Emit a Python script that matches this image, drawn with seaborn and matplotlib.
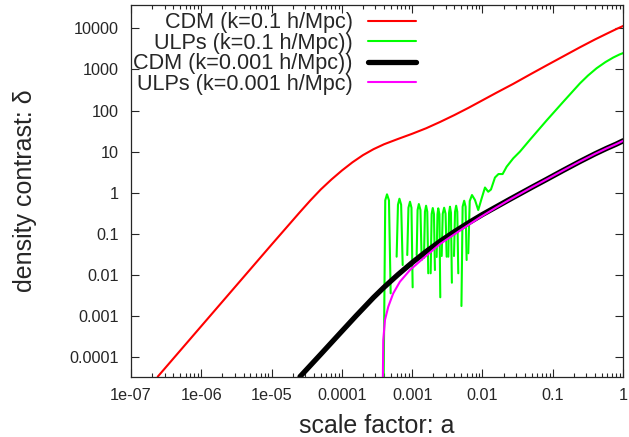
import numpy as np
import pandas as pd
import matplotlib
matplotlib.use("Agg")
import matplotlib.pyplot as plt
from matplotlib.lines import Line2D
from matplotlib.ticker import LogLocator, NullLocator
import seaborn as sns

# valores, em log10 (a = fator de escala, d = contraste de densidade)
red_loga = [-6.62, -6.0, -5.5, -5.0, -4.6, -4.45, -4.3, -4.15, -4.0, -3.85, -3.7, -3.55, -3.4,
            -3.2, -3.0, -2.8, -2.6, -2.4, -2.2, -2.0, -1.8, -1.562, -1.3, -1.087, -0.85,
            -0.613, -0.4, -0.233, -0.1, 0.003]
red_logd = [-4.477, -3.246, -2.254, -1.262, -0.477, -0.19, 0.08, 0.32, 0.54, 0.74, 0.915, 1.06,
            1.18, 1.31, 1.435, 1.57, 1.725, 1.89, 2.065, 2.25, 2.435, 2.65, 2.9, 3.10, 3.32,
            3.54, 3.73, 3.87, 3.98, 4.06]

black_loga = [-4.596, -4.3, -4.027, -3.8, -3.7, -3.55, -3.4, -3.2, -3.0, -2.8, -2.6, -2.4,
              -2.2, -2.0, -1.8, -1.6, -1.3, -1.087, -0.85, -0.613, -0.4, -0.233, -0.1, 0.003]
black_logd = [-4.477, -3.93, -3.421, -3.0, -2.82, -2.55, -2.30, -1.99, -1.70, -1.43, -1.18,
              -0.95, -0.735, -0.53, -0.34, -0.15, 0.13, 0.325, 0.545, 0.76, 0.945, 1.08, 1.18, 1.265]

mag_loga = [-3.420, -3.411, -3.387, -3.340, -3.269, -3.174, -3.031, -2.842, -2.605, -2.32,
            -2.036, -1.8, -1.609, -1.3, -1.087, -0.85, -0.613, -0.4, -0.233, -0.1, 0.003]
mag_logd = [-5.0, -3.584, -3.097, -2.774, -2.448, -2.165, -1.881, -1.596, -1.25, -0.92,
            -0.60, -0.355, -0.165, 0.13, 0.325, 0.545, 0.76, 0.945, 1.08, 1.18, 1.265]

# ULPs k=0.1: cada arco é um segmento (valores negativos somem no eixo log)
green_loga = [-3.408, -3.383, -3.358, -3.330, -3.306,
              -3.221, -3.202, -3.181, -3.157, -3.135,
              -3.070, -3.053, -3.031, -3.010, -2.993,
              -2.936, -2.923, -2.905, -2.882, -2.865,
              -2.832, -2.818, -2.802, -2.785, -2.771,
              -2.737, -2.723, -2.707, -2.690, -2.676,
              -2.652, -2.640, -2.629, -2.612, -2.600,
              -2.580, -2.565, -2.545, -2.525, -2.509,
              -2.486, -2.475, -2.462, -2.448, -2.435,
              -2.405, -2.390, -2.374, -2.358, -2.344,
              -2.299, -2.282, -2.260, -2.240, -2.225,
              -2.202, -2.181, -2.149, -2.106, -2.060, -2.011, -1.964, -1.918, -1.879, -1.822,
              -1.772, -1.713, -1.656, -1.562, -1.467, -1.324, -1.087, -0.850, -0.613, -0.5,
              -0.376, -0.25, -0.14, -0.05, 0.003]
green_logd = [-5.0, -0.185, -0.039, -0.185, -2.448,
              -1.557, -0.292, -0.146, -0.292, -1.759,
              -1.516, -0.365, -0.219, -0.365, -2.302,
              -1.516, -0.421, -0.275, -0.421, -1.637,
              -1.589, -0.462, -0.316, -0.462, -1.961,
              -1.961, -0.518, -0.372, -0.518, -1.881,
              -1.564, -0.526, -0.380, -0.526, -2.545,
              -1.540, -0.511, -0.365, -0.511, -1.557,
              -1.557, -0.487, -0.341, -0.487, -2.190,
              -1.540, -0.462, -0.316, -0.462, -1.961,
              -2.757, -0.341, -0.195, -0.341, -1.637,
              -1.474, -0.202, -0.056, -0.178, -0.421, -0.136, 0.127, 0.024, 0.078, 0.370,
              0.455, 0.455, 0.633, 0.837, 1.0, 1.29, 1.76, 2.214, 2.662, 2.85,
              3.03, 3.18, 3.29, 3.365, 3.40]
green_seg = [0]*5 + [1]*5 + [2]*5 + [3]*5 + [4]*5 + [5]*5 + [6]*5 + [7]*5 + [8]*5 + [9]*5 + [10]*5 + [11]*25

labels = ["CDM (k=0.1 h/Mpc)", "ULPs (k=0.1 h/Mpc))", "CDM (k=0.001 h/Mpc))", "ULPs (k=0.001 h/Mpc)"]
cores = ["#ff0000", "#00ff00", "#000000", "#ff00ff"]
larguras = [1.5, 1.5, 3.8, 1.5]

xticks = [1e-7, 1e-6, 1e-5, 1e-4, 1e-3, 1e-2, 1e-1, 1]
xticklabels = ["1e-07", "1e-06", "1e-05", "0.0001", "0.001", "0.01", "0.1", "1"]
yticks = [1e-4, 1e-3, 1e-2, 1e-1, 1, 10, 100, 1000, 10000]
yticklabels = ["0.0001", "0.001", "0.01", "0.1", "1", "10", "100", "1000", "10000"]

sns.set_style("ticks")
plt.rcParams['font.family'] = ['Liberation Sans', 'DejaVu Sans']

def tabela(la, ld, seg=None):
    df = pd.DataFrame({"a": 10**np.array(la), "d": 10**np.array(ld)})
    df["seg"] = seg if seg is not None else 0
    return df

fig, ax = plt.subplots(figsize=(6.29, 4.37), dpi=100)
fig.subplots_adjust(left=0.2083, right=0.9905, bottom=0.138, top=0.989)

series = [tabela(red_loga, red_logd), tabela(green_loga, green_logd, green_seg),
          tabela(black_loga, black_logd), tabela(mag_loga, mag_logd)]
for df, c, lw in zip(series, cores, larguras):
    sns.lineplot(data=df, x="a", y="d", units="seg", estimator=None, sort=False,
                 color=c, lw=lw, ax=ax, legend=False)

ax.set(xscale="log", yscale="log")
ax.set_xlim(1e-7, 1)
ax.set_ylim(3.33e-5, 3.75e4)
ax.set_xticks(xticks, xticklabels)
ax.set_yticks(yticks, yticklabels)
ax.xaxis.set_minor_locator(LogLocator(base=10, subs=range(2, 10), numticks=20))
ax.yaxis.set_minor_locator(NullLocator())
ax.tick_params(which="both", direction="in", top=True, right=True, width=0.8)
ax.tick_params(which="major", length=6, labelsize=11.7)
ax.tick_params(axis="x", which="major", pad=8.1)
ax.tick_params(axis="y", which="major", pad=8.6)
ax.tick_params(which="minor", length=3)
for s in ax.spines.values():
    s.set_linewidth(0.9)

ax.set_xlabel("scale factor: a", fontsize=18)
ax.set_ylabel("density contrast: δ", fontsize=18)
ax.xaxis.set_label_coords(0.5, -0.1008)
ax.yaxis.set_label_coords(-0.191, 0.5)

handles = [Line2D([], [], color=c, lw=lw) for c, lw in zip(cores, larguras)]
ax.legend(handles, labels, loc="upper right", bbox_to_anchor=(0.5793, 0.980), frameon=False,
          markerfirst=False, fontsize=15.6, handlelength=2.2, handletextpad=0.72,
          labelspacing=-0.02, borderpad=0, borderaxespad=0)

plt.savefig("out.png", dpi=100)
